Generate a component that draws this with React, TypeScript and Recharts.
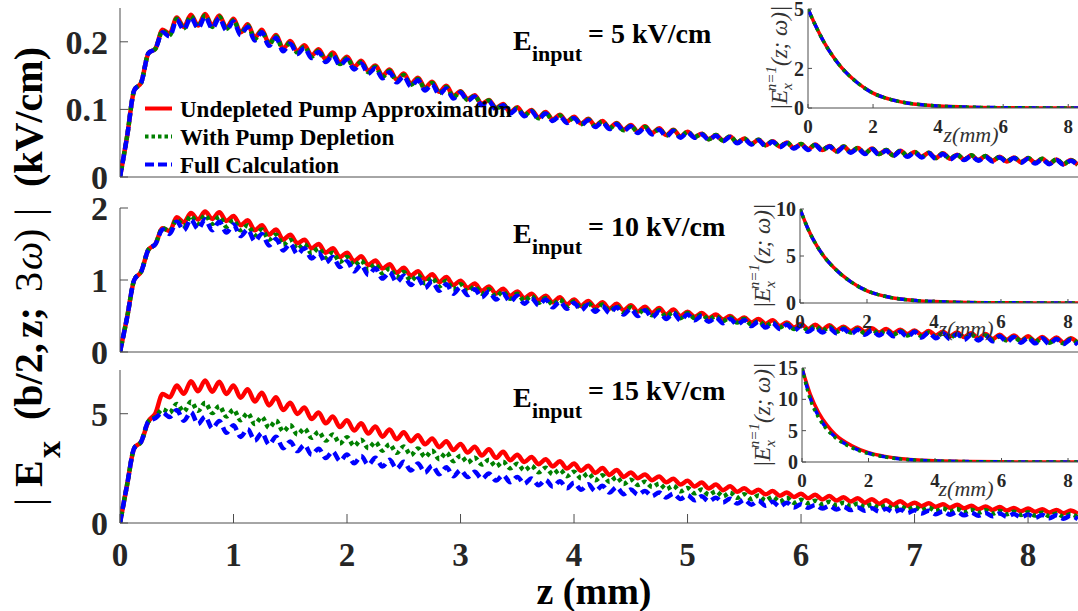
import { LineChart, Line, XAxis, YAxis } from "recharts";

// z sampling of the main curves (mm), half of one ripple period
const Z_STEP = 0.0625;
const Z_MAX = 8.44;
const Z_TICKS = [0, 1, 2, 3, 4, 5, 6, 7, 8];

// |Ex(b/2, z; 3w)|, E_input = 5 kV/cm
const top5Undepleted = [
  0, 0.06, 0.128, 0.14, 0.183, 0.19, 0.218, 0.212,
  0.236, 0.222, 0.24, 0.224, 0.241, 0.224, 0.239, 0.221, 0.234, 0.214, 0.226, 0.206, 0.218, 0.198, 0.21, 0.19,
  0.201, 0.186, 0.195, 0.18, 0.189, 0.174, 0.184, 0.169, 0.178, 0.163, 0.172, 0.157, 0.165, 0.15, 0.159, 0.144, 0.153, 0.138, 0.147, 0.132, 0.141, 0.126, 0.135, 0.12,
  0.127, 0.115, 0.121, 0.108, 0.114, 0.102, 0.108, 0.096, 0.103, 0.092, 0.099, 0.088, 0.096, 0.085, 0.092, 0.082, 0.089, 0.079, 0.086, 0.076, 0.083, 0.073, 0.08, 0.07, 0.077, 0.067, 0.075, 0.065, 0.072, 0.062, 0.07, 0.06,
  0.067, 0.059, 0.064, 0.056, 0.062, 0.054, 0.06, 0.051, 0.057, 0.049, 0.055, 0.047, 0.053, 0.045, 0.051, 0.043, 0.049, 0.041, 0.048, 0.04,
  0.046, 0.038, 0.045, 0.037, 0.043, 0.035, 0.042, 0.034, 0.04, 0.032, 0.039, 0.031, 0.037, 0.03, 0.036, 0.028, 0.035, 0.027, 0.033, 0.026,
  0.032, 0.025, 0.031, 0.024, 0.03, 0.023, 0.029, 0.022, 0.028, 0.021, 0.027, 0.02, 0.026, 0.019, 0.025, 0.018,
];
const top5Depletion = [
  0, 0.06, 0.128, 0.14, 0.183, 0.19, 0.216, 0.21,
  0.234, 0.22, 0.238, 0.222, 0.239, 0.222, 0.237, 0.219, 0.232, 0.212, 0.224, 0.204, 0.216, 0.196, 0.208, 0.188,
  0.199, 0.184, 0.193, 0.178, 0.187, 0.172, 0.182, 0.167, 0.176, 0.161, 0.17, 0.155, 0.163, 0.148, 0.157, 0.142, 0.151, 0.136, 0.145, 0.13, 0.139, 0.124, 0.133, 0.118,
  0.126, 0.114, 0.12, 0.107, 0.113, 0.101, 0.107, 0.095, 0.102, 0.091, 0.098, 0.087, 0.095, 0.084, 0.091, 0.081, 0.088, 0.078, 0.085, 0.075, 0.082, 0.072, 0.079, 0.069, 0.076, 0.066, 0.074, 0.064, 0.071, 0.061, 0.069, 0.059,
  0.067, 0.059, 0.064, 0.056, 0.062, 0.054, 0.06, 0.051, 0.057, 0.049, 0.055, 0.047, 0.053, 0.045, 0.051, 0.043, 0.049, 0.041, 0.048, 0.04,
  0.046, 0.038, 0.045, 0.037, 0.043, 0.035, 0.042, 0.034, 0.04, 0.032, 0.039, 0.031, 0.037, 0.03, 0.036, 0.028, 0.035, 0.027, 0.033, 0.026,
  0.032, 0.025, 0.031, 0.024, 0.03, 0.023, 0.029, 0.022, 0.028, 0.021, 0.027, 0.02, 0.026, 0.019, 0.025, 0.018,
];
const top5Full = [
  0, 0.06, 0.128, 0.14, 0.183, 0.19, 0.214, 0.208,
  0.232, 0.218, 0.236, 0.22, 0.237, 0.22, 0.235, 0.217, 0.23, 0.21, 0.222, 0.202, 0.214, 0.194, 0.206, 0.186,
  0.197, 0.182, 0.191, 0.176, 0.185, 0.17, 0.18, 0.165, 0.174, 0.159, 0.168, 0.153, 0.161, 0.146, 0.155, 0.14, 0.149, 0.134, 0.143, 0.128, 0.137, 0.122, 0.131, 0.116,
  0.125, 0.113, 0.119, 0.106, 0.112, 0.1, 0.106, 0.094, 0.101, 0.09, 0.097, 0.086, 0.094, 0.083, 0.09, 0.08, 0.087, 0.077, 0.084, 0.074, 0.081, 0.071, 0.078, 0.068, 0.075, 0.065, 0.073, 0.063, 0.07, 0.06, 0.068, 0.058,
  0.066, 0.058, 0.063, 0.055, 0.061, 0.053, 0.059, 0.05, 0.056, 0.048, 0.054, 0.046, 0.052, 0.044, 0.05, 0.042, 0.048, 0.04, 0.047, 0.039,
  0.045, 0.037, 0.044, 0.036, 0.042, 0.034, 0.041, 0.033, 0.039, 0.031, 0.038, 0.03, 0.036, 0.029, 0.035, 0.027, 0.034, 0.026, 0.032, 0.025,
  0.031, 0.024, 0.03, 0.023, 0.029, 0.022, 0.028, 0.021, 0.027, 0.02, 0.026, 0.019, 0.025, 0.018, 0.024, 0.017,
];

// E_input = 10 kV/cm
const mid10Undepleted = [
  0, 0.48, 1.0, 1.12, 1.42, 1.5, 1.72, 1.68,
  1.87, 1.8, 1.93, 1.84, 1.95, 1.85, 1.94, 1.82, 1.89, 1.76, 1.83, 1.69, 1.76, 1.63, 1.7, 1.56,
  1.63, 1.51, 1.56, 1.44, 1.5, 1.38, 1.44, 1.32, 1.38, 1.26, 1.33, 1.21, 1.27, 1.16, 1.22, 1.1, 1.17, 1.06, 1.12, 1.01, 1.08, 0.97, 1.04, 0.93,
  0.99, 0.89, 0.95, 0.85, 0.91, 0.81, 0.88, 0.78, 0.84, 0.75, 0.81, 0.72, 0.78, 0.69, 0.76, 0.66, 0.73, 0.64, 0.71, 0.62, 0.69, 0.6, 0.67, 0.58, 0.65, 0.56, 0.63, 0.54, 0.61, 0.52, 0.59, 0.5,
  0.56, 0.49, 0.54, 0.47, 0.52, 0.45, 0.5, 0.43, 0.48, 0.41, 0.46, 0.39, 0.44, 0.36, 0.41, 0.34, 0.39, 0.32, 0.38, 0.31,
  0.37, 0.3, 0.35, 0.29, 0.34, 0.28, 0.33, 0.27, 0.32, 0.26, 0.31, 0.25, 0.3, 0.24, 0.29, 0.23, 0.28, 0.22, 0.27, 0.21,
  0.26, 0.19, 0.25, 0.18, 0.24, 0.17, 0.23, 0.16, 0.22, 0.15, 0.21, 0.14, 0.2, 0.13, 0.19, 0.13,
];
const mid10Depletion = [
  0, 0.48, 1.0, 1.12, 1.42, 1.5, 1.72, 1.68,
  1.84, 1.75, 1.89, 1.78, 1.9, 1.78, 1.88, 1.74, 1.83, 1.69, 1.76, 1.62, 1.7, 1.56, 1.63, 1.49,
  1.56, 1.43, 1.5, 1.37, 1.44, 1.31, 1.38, 1.25, 1.32, 1.2, 1.27, 1.14, 1.22, 1.09, 1.16, 1.04, 1.11, 0.99, 1.07, 0.95, 1.03, 0.91, 0.99, 0.87,
  0.94, 0.84, 0.91, 0.81, 0.87, 0.77, 0.84, 0.74, 0.81, 0.71, 0.78, 0.68, 0.75, 0.66, 0.73, 0.63, 0.7, 0.61, 0.68, 0.59, 0.66, 0.57, 0.64, 0.55, 0.62, 0.53, 0.6, 0.51, 0.58, 0.49, 0.56, 0.47,
  0.54, 0.47, 0.52, 0.45, 0.5, 0.43, 0.48, 0.41, 0.46, 0.38, 0.43, 0.36, 0.41, 0.34, 0.39, 0.32, 0.37, 0.3, 0.36, 0.29,
  0.35, 0.28, 0.33, 0.27, 0.32, 0.26, 0.31, 0.25, 0.3, 0.24, 0.29, 0.23, 0.28, 0.22, 0.27, 0.21, 0.26, 0.2, 0.25, 0.19,
  0.24, 0.18, 0.23, 0.17, 0.22, 0.16, 0.21, 0.15, 0.2, 0.14, 0.19, 0.13, 0.18, 0.12, 0.18, 0.12,
];
const mid10Full = [
  0, 0.48, 1.0, 1.12, 1.42, 1.5, 1.7, 1.64,
  1.81, 1.69, 1.84, 1.71, 1.84, 1.69, 1.81, 1.66, 1.77, 1.61, 1.7, 1.54, 1.64, 1.48, 1.57, 1.41,
  1.5, 1.36, 1.44, 1.3, 1.38, 1.24, 1.32, 1.18, 1.26, 1.12, 1.21, 1.07, 1.16, 1.02, 1.11, 0.97, 1.06, 0.93, 1.02, 0.89, 0.98, 0.85, 0.94, 0.81,
  0.9, 0.79, 0.87, 0.76, 0.84, 0.73, 0.81, 0.7, 0.78, 0.67, 0.75, 0.65, 0.73, 0.62, 0.7, 0.6, 0.68, 0.58, 0.66, 0.56, 0.64, 0.54, 0.62, 0.52, 0.6, 0.5, 0.58, 0.48, 0.56, 0.46, 0.54, 0.44,
  0.52, 0.44, 0.5, 0.42, 0.48, 0.4, 0.46, 0.38, 0.44, 0.36, 0.42, 0.34, 0.4, 0.32, 0.38, 0.3, 0.36, 0.28, 0.34, 0.27,
  0.33, 0.26, 0.32, 0.25, 0.31, 0.24, 0.3, 0.23, 0.29, 0.22, 0.28, 0.21, 0.28, 0.2, 0.27, 0.19, 0.26, 0.18, 0.25, 0.17,
  0.24, 0.16, 0.23, 0.15, 0.22, 0.14, 0.21, 0.13, 0.2, 0.12, 0.19, 0.11, 0.18, 0.11, 0.17, 0.1,
];

// E_input = 15 kV/cm
const bot15Undepleted = [
  0, 1.75, 3.42, 3.73, 4.64, 5.02, 5.9, 5.75,
  6.29, 5.91, 6.49, 6.03, 6.52, 6.01, 6.46, 5.9, 6.29, 5.73, 6.12, 5.56, 5.96, 5.38, 5.75, 5.17,
  5.5, 4.99, 5.28, 4.76, 5.05, 4.56, 4.87, 4.39, 4.7, 4.23, 4.56, 4.09, 4.42, 3.95, 4.28, 3.83,
  4.15, 3.74, 4.01, 3.6, 3.87, 3.47, 3.74, 3.34, 3.62, 3.22, 3.49, 3.09, 3.37, 2.98, 3.26, 2.87,
  3.12, 2.79, 3.02, 2.69, 2.92, 2.59, 2.82, 2.49, 2.72, 2.39, 2.62, 2.29, 2.52, 2.2, 2.43, 2.11,
  2.31, 2.05, 2.22, 1.96, 2.13, 1.86, 2.03, 1.76, 1.93, 1.67, 1.85, 1.58, 1.76, 1.5, 1.68, 1.43,
  1.59, 1.38, 1.52, 1.31, 1.46, 1.25, 1.4, 1.19, 1.34, 1.13, 1.29, 1.08, 1.23, 1.03, 1.18, 0.98, 1.13, 0.93, 1.09, 0.88, 1.04, 0.84, 1.0, 0.79,
  0.93, 0.77, 0.9, 0.74, 0.86, 0.7, 0.83, 0.67, 0.79, 0.63, 0.76, 0.6, 0.73, 0.57, 0.69, 0.54, 0.66, 0.51, 0.63, 0.48, 0.6, 0.45, 0.57, 0.42,
];
const bot15Depletion = [
  0, 1.75, 3.42, 3.73, 4.64, 4.85, 5.2, 5.05,
  5.45, 5.1, 5.55, 5.13, 5.5, 5.03, 5.35, 4.87, 5.18, 4.7, 5.02, 4.53, 4.85, 4.36, 4.68, 4.19,
  4.47, 4.05, 4.32, 3.9, 4.17, 3.77, 4.05, 3.64, 3.92, 3.53, 3.81, 3.42, 3.7, 3.31, 3.6, 3.21, 3.5, 3.11, 3.41, 3.02, 3.31, 2.92, 3.22, 2.83,
  3.08, 2.77, 2.99, 2.68, 2.89, 2.59, 2.8, 2.5, 2.71, 2.41, 2.62, 2.32, 2.53, 2.23, 2.44, 2.14, 2.35, 2.05, 2.27, 1.96, 2.18, 1.88, 2.1, 1.79,
  1.98, 1.74, 1.89, 1.65, 1.8, 1.55, 1.7, 1.45, 1.6, 1.36, 1.53, 1.29, 1.45, 1.22, 1.39, 1.15, 1.32, 1.09, 1.26, 1.03, 1.2, 0.97, 1.15, 0.92,
  1.06, 0.9, 1.02, 0.85, 0.97, 0.81, 0.93, 0.77, 0.89, 0.73, 0.85, 0.69, 0.81, 0.65, 0.77, 0.61, 0.73, 0.58, 0.7, 0.55,
  0.67, 0.52, 0.64, 0.49, 0.61, 0.46, 0.58, 0.43, 0.55, 0.4, 0.52, 0.37, 0.49, 0.34, 0.47, 0.31, 0.44, 0.29, 0.41, 0.26,
];
const bot15Full = [
  0, 1.75, 3.42, 3.73, 4.64, 4.8, 5.05, 4.85,
  5.17, 4.68, 5.07, 4.53, 4.87, 4.33, 4.67, 4.13, 4.47, 3.94, 4.3, 3.77, 4.12, 3.59, 3.95, 3.42,
  3.73, 3.29, 3.57, 3.12, 3.4, 2.97, 3.27, 2.84, 3.13, 2.73, 3.06, 2.66, 2.98, 2.58, 2.89, 2.49, 2.8, 2.4, 2.72, 2.31, 2.63, 2.23, 2.55, 2.14,
  2.42, 2.1, 2.34, 2.02, 2.26, 1.94, 2.19, 1.87, 2.11, 1.8, 2.04, 1.73, 1.97, 1.66, 1.91, 1.59, 1.84, 1.52, 1.77, 1.46, 1.7, 1.39, 1.64, 1.32,
  1.53, 1.3, 1.46, 1.23, 1.4, 1.17, 1.34, 1.1, 1.27, 1.04, 1.22, 0.99, 1.16, 0.94, 1.11, 0.89, 1.06, 0.84, 1.02, 0.79, 0.97, 0.75, 0.93, 0.71,
  0.86, 0.7, 0.82, 0.66, 0.78, 0.62, 0.75, 0.59, 0.71, 0.56, 0.68, 0.52, 0.65, 0.49, 0.61, 0.46, 0.58, 0.43, 0.56, 0.4,
  0.53, 0.38, 0.51, 0.35, 0.48, 0.33, 0.46, 0.31, 0.44, 0.29, 0.41, 0.26, 0.39, 0.24, 0.37, 0.22, 0.35, 0.2, 0.33, 0.18,
];

// insets: |Ex^{n=1}(z; w)|
const insetZ = [0, 0.25, 0.5, 0.75, 1, 1.5, 2, 2.5, 3, 3.5, 4, 5, 6, 7, 8.3];
const inset5 = [5, 4.1, 3.3, 2.65, 2.1, 1.3, 0.75, 0.45, 0.27, 0.16, 0.1, 0.04, 0.015, 0.005, 0];
const inset10 = [10, 7.8, 6.1, 4.8, 3.8, 2.3, 1.3, 0.75, 0.42, 0.25, 0.15, 0.05, 0.02, 0.01, 0];
const inset15Undepleted = [15, 10.8, 7.9, 5.9, 4.4, 2.6, 1.5, 0.9, 0.52, 0.3, 0.18, 0.07, 0.03, 0.01, 0.005];
const inset15Depletion = [15, 10.0, 7.1, 5.2, 3.9, 2.3, 1.35, 0.8, 0.46, 0.27, 0.16, 0.06, 0.02, 0.01, 0.004];
const inset15Full = [15, 10.2, 7.3, 5.3, 4.0, 2.35, 1.4, 0.82, 0.47, 0.28, 0.16, 0.06, 0.02, 0.01, 0.004];

const FONT = '"Liberation Serif", "Times New Roman", serif';
const AXIS = "#4d4d4d";
const RED = "#ff0000";
const GREEN = "#008000";
const BLUE = "#0000ff";

type Row = { z: number; red: number; green: number; blue: number };

const mainRows = (red: number[], green: number[], blue: number[]): Row[] =>
  red.map((v, i) => ({ z: i * Z_STEP, red: v, green: green[i], blue: blue[i] }));

const insetRows = (red: number[], green: number[], blue: number[]): Row[] =>
  insetZ.map((z, i) => ({ z, red: red[i], green: green[i], blue: blue[i] }));

const tickFont = (size: number) => ({
  fontSize: size,
  fontWeight: 700,
  fill: "#262626",
  fontFamily: FONT,
});

function MainPanel(props: {
  top: number;
  mt: number;
  plotH: number;
  rows: Row[];
  yMax: number;
  yTicks: number[];
  xLabels: boolean;
}) {
  const { top, mt, plotH, rows, yMax, yTicks, xLabels } = props;
  const xh = xLabels ? 60 : 20;
  return (
    <div style={{ position: "absolute", left: 0, top }}>
      <LineChart
        width={1078}
        height={mt + plotH + xh}
        data={rows}
        margin={{ top: mt, right: 0, bottom: 0, left: 0 }}
      >
        <XAxis
          dataKey="z"
          type="number"
          domain={[0, Z_MAX]}
          allowDataOverflow
          ticks={Z_TICKS}
          interval={0}
          height={xh}
          axisLine={{ stroke: AXIS }}
          tickLine={xLabels ? { stroke: AXIS } : false}
          tick={xLabels ? tickFont(33) : false}
          tickSize={-9}
          tickMargin={29}
        />
        <XAxis
          xAxisId="top"
          orientation="top"
          type="number"
          domain={[0, Z_MAX]}
          allowDataOverflow
          ticks={Z_TICKS}
          interval={0}
          height={0}
          axisLine={{ stroke: AXIS }}
          tickLine={xLabels ? { stroke: AXIS } : false}
          tick={false}
          tickSize={-9}
        />
        <YAxis
          type="number"
          domain={[0, yMax]}
          allowDataOverflow
          ticks={yTicks}
          interval={0}
          width={120}
          axisLine={{ stroke: AXIS }}
          tickLine={{ stroke: AXIS }}
          tick={tickFont(34)}
          tickSize={-8}
          tickMargin={20}
        />
        <Line type="monotone" dataKey="red" stroke={RED} strokeWidth={4.5} dot={false} isAnimationActive={false} />
        <Line type="monotone" dataKey="green" stroke={GREEN} strokeWidth={4.5} strokeDasharray="4 3.5" dot={false} isAnimationActive={false} />
        <Line type="monotone" dataKey="blue" stroke={BLUE} strokeWidth={4.5} strokeDasharray="9 5" dot={false} isAnimationActive={false} />
      </LineChart>
    </div>
  );
}

function Inset(props: {
  left: number;
  top: number;
  mt: number;
  plotH: number;
  rows: Row[];
  yMax: number;
  yTicks: number[];
}) {
  const { left, top, mt, plotH, rows, yMax, yTicks } = props;
  const yw = 40;
  const xh = 34;
  return (
    <div style={{ position: "absolute", left: left - yw, top: top - mt }}>
      <LineChart
        width={1078 - left + yw}
        height={mt + plotH + xh}
        data={rows}
        margin={{ top: mt, right: 0, bottom: 0, left: 0 }}
      >
        <XAxis
          dataKey="z"
          type="number"
          domain={[0, 8.3]}
          allowDataOverflow
          ticks={[0, 2, 4, 6, 8]}
          interval={0}
          height={xh}
          axisLine={{ stroke: AXIS }}
          tickLine={{ stroke: AXIS }}
          tick={tickFont(19)}
          tickSize={-4}
          tickMargin={16}
        />
        <XAxis
          xAxisId="top"
          orientation="top"
          type="number"
          domain={[0, 8.3]}
          allowDataOverflow
          ticks={[0, 2, 4, 6, 8]}
          interval={0}
          height={0}
          axisLine={{ stroke: AXIS }}
          tickLine={{ stroke: AXIS }}
          tick={false}
          tickSize={-4}
        />
        <YAxis
          type="number"
          domain={[0, yMax]}
          allowDataOverflow
          ticks={yTicks}
          interval={0}
          width={yw}
          axisLine={{ stroke: AXIS }}
          tickLine={{ stroke: AXIS }}
          tick={tickFont(20)}
          tickSize={-4}
          tickMargin={8}
        />
        <Line type="monotone" dataKey="red" stroke={RED} strokeWidth={3.5} dot={false} isAnimationActive={false} />
        <Line type="monotone" dataKey="blue" stroke={BLUE} strokeWidth={3.5} strokeDasharray="8 6" dot={false} isAnimationActive={false} />
        <Line type="monotone" dataKey="green" stroke={GREEN} strokeWidth={3.5} strokeDasharray="3 4" dot={false} isAnimationActive={false} />
      </LineChart>
    </div>
  );
}

function Title({ base, value }: { base: number; value: string }) {
  return (
    <text fontFamily={FONT} fontWeight={700} fill="#000">
      <tspan x={513} y={base} fontSize={28}>E</tspan>
      <tspan x={532} y={base + 11} fontSize={22}>input</tspan>
      <tspan x={588} y={base - 7} fontSize={28}>{`= ${value} kV/cm`}</tspan>
    </text>
  );
}

function InsetYLabel({ x, cy }: { x: number; cy: number }) {
  return (
    <text
      transform={`translate(${x}, ${cy}) rotate(-90)`}
      textAnchor="middle"
      fontFamily={FONT}
      fontStyle="italic"
      fontSize={23}
      fill="#333"
    >
      |E
      <tspan dy={5} fontSize={15}>x</tspan>
      <tspan dx={-8} dy={-16} fontSize={15}>n=1</tspan>
      <tspan dy={11}>(z; ω)|</tspan>
    </text>
  );
}

function InsetXLabel({ x, y }: { x: number; y: number }) {
  return (
    <text x={x} y={y} textAnchor="middle" fontFamily={FONT} fontStyle="italic" fontSize={22} fill="#333">
      z(mm)
    </text>
  );
}

export default function App() {
  const rows5 = mainRows(top5Undepleted, top5Depletion, top5Full);
  const rows10 = mainRows(mid10Undepleted, mid10Depletion, mid10Full);
  const rows15 = mainRows(bot15Undepleted, bot15Depletion, bot15Full);

  const yl = { fontFamily: FONT, fill: "#000" };

  return (
    <div
      style={{
        position: "absolute",
        left: 0,
        top: 0,
        width: 1078,
        height: 611,
        background: "#fff",
        overflow: "hidden",
      }}
    >
      <MainPanel top={0} mt={8} plotH={169} rows={rows5} yMax={0.25} yTicks={[0, 0.1, 0.2]} xLabels={false} />
      <MainPanel top={190} mt={18} plotH={144} rows={rows10} yMax={2} yTicks={[0, 1, 2]} xLabels={false} />
      <MainPanel top={352} mt={18} plotH={153} rows={rows15} yMax={7} yTicks={[0, 5]} xLabels={true} />

      <Inset left={808} top={9} mt={9} plotH={99} rows={insetRows(inset5, inset5, inset5)} yMax={5} yTicks={[0, 2, 5]} />
      <Inset left={800} top={209} mt={12} plotH={94} rows={insetRows(inset10, inset10, inset10)} yMax={10} yTicks={[0, 5, 10]} />
      <Inset
        left={802}
        top={368}
        mt={12}
        plotH={94}
        rows={insetRows(inset15Undepleted, inset15Depletion, inset15Full)}
        yMax={15}
        yTicks={[0, 5, 10, 15]}
      />

      <svg
        width={1078}
        height={611}
        style={{ position: "absolute", left: 0, top: 0, pointerEvents: "none" }}
      >
        <Title base={50} value="5" />
        <Title base={243} value="10" />
        <Title base={407} value="15" />

        {/* legend */}
        <line x1={145} x2={172} y1={108.5} y2={108.5} stroke={RED} strokeWidth={4} />
        <line x1={145} x2={172} y1={136.5} y2={136.5} stroke={GREEN} strokeWidth={4} strokeDasharray="3.5 3" />
        <line x1={145} x2={172} y1={164.5} y2={164.5} stroke={BLUE} strokeWidth={4} strokeDasharray="9 4" />
        <g fontFamily={FONT} fontWeight={700} fontSize={23} fill="#000">
          <text x={180} y={117}>Undepleted Pump Approximation</text>
          <text x={180} y={145}>With Pump Depletion</text>
          <text x={180} y={173}>Full Calculation</text>
        </g>

        {/* y axis label, reads bottom to top */}
        <g transform="rotate(-90)">
          <text x={-506} y={42} fontSize={40} {...yl}>|</text>
          <text x={-487} y={42} fontSize={40} fontWeight={700} {...yl}>E</text>
          <text x={-458} y={60} fontSize={34} fontWeight={700} {...yl}>x</text>
          <text x={-420} y={42} fontSize={40} fontWeight={700} {...yl}>(b/2,</text>
          <text x={-338} y={42} fontSize={40} fontWeight={700} {...yl}>z;</text>
          <text x={-292} y={42} fontSize={40} {...yl}>3</text>
          <text x={-270} y={42} fontSize={40} fontStyle="italic" {...yl}>ω</text>
          <text x={-242} y={42} fontSize={40} {...yl}>)</text>
          <text x={-216} y={42} fontSize={40} {...yl}>|</text>
          <text x={-187} y={42} fontSize={40} fontWeight={700} {...yl}>(kV/cm)</text>
        </g>

        <text x={594} y={604} textAnchor="middle" fontFamily={FONT} fontWeight={700} fontSize={38} fill="#000">
          z (mm)
        </text>

        <InsetYLabel x={787} cy={58} />
        <InsetYLabel x={770} cy={256} />
        <InsetYLabel x={770} cy={415} />
        <InsetXLabel x={971} y={142} />
        <InsetXLabel x={966} y={336} />
        <InsetXLabel x={966} y={496} />
      </svg>
    </div>
  );
}
